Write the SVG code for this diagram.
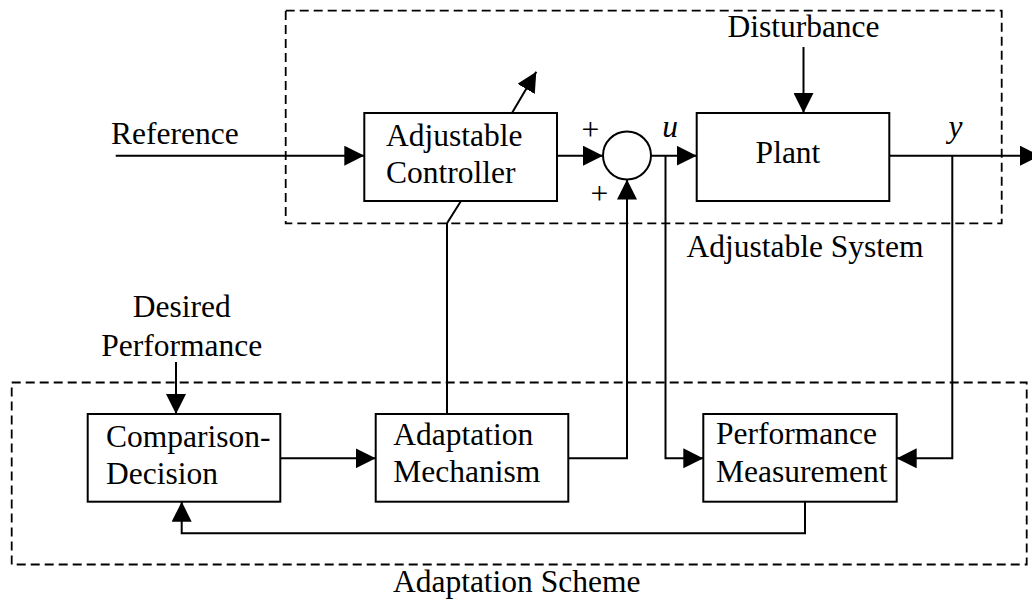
<svg xmlns="http://www.w3.org/2000/svg" width="1032" height="601" viewBox="0 0 1032 601">
  <defs>
    <marker id="arr" viewBox="0 0 20 20" refX="20" refY="10" markerWidth="20" markerHeight="20" markerUnits="userSpaceOnUse" orient="auto">
      <path d="M0,0 L20,10 L0,20 Z" fill="#000"/>
    </marker>
    <style>
      text { font-family: "Liberation Serif", "Times New Roman", serif; font-size: 31.5px; fill: #000; }
      .it { font-style: italic; }
      .box { fill: #fff; stroke: #000; stroke-width: 2; }
      .wire { fill: none; stroke: #000; stroke-width: 2; }
      .dash { fill: none; stroke: #000; stroke-width: 1.8; stroke-dasharray: 9 5; }
      .mid { text-anchor: middle; }
    </style>
  </defs>
  <rect width="1032" height="601" fill="#fff"/>

  <!-- subsystem frames -->
  <g id="frames">
    <rect class="dash" x="285.7" y="10.7" width="716" height="212.6"/>
    <rect class="dash" x="11.7" y="382.5" width="1015" height="182"/>
    <text class="mid" x="805" y="256.7">Adjustable System</text>
    <text class="mid" x="516.7" y="592.3">Adaptation Scheme</text>
  </g>

  <!-- signal paths -->
  <g id="connectors">
    <path class="wire" d="M115.7,155.7 H364.3" marker-end="url(#arr)"/>
    <path class="wire" d="M557,155.7 H603" marker-end="url(#arr)"/>
    <path class="wire" d="M651,155.7 H696.7" marker-end="url(#arr)"/>
    <path class="wire" d="M889.3,155.7 H1040" marker-end="url(#arr)"/>
    <path class="wire" d="M803.5,47 V113" marker-end="url(#arr)"/>
    <path class="wire" d="M512,113 L536.3,71.7" marker-end="url(#arr)"/>
    <path class="wire" d="M461,201 L447,223.3 V414"/>
    <path class="wire" d="M176,362 V414" marker-end="url(#arr)"/>
    <path class="wire" d="M280.3,458.3 H375.7" marker-end="url(#arr)"/>
    <path class="wire" d="M568.3,458.3 H627 V179.5" marker-end="url(#arr)"/>
    <path class="wire" d="M665.5,155.7 V458.3 H703.3" marker-end="url(#arr)"/>
    <path class="wire" d="M952.3,155.7 V458.3 H896.7" marker-end="url(#arr)"/>
    <path class="wire" d="M805,501.7 V533.3 H181.7 V501.7" marker-end="url(#arr)"/>
  </g>

  <!-- signal labels -->
  <g id="labels">
    <text x="111" y="144.3">Reference</text>
    <text class="mid" x="803.5" y="37.3">Disturbance</text>
    <text class="mid" x="181.7" y="317.3">Desired</text>
    <text class="mid" x="181.7" y="356">Performance</text>
    <text class="mid" x="590.3" y="140">+</text>
    <text class="mid" x="599.5" y="204">+</text>
    <text class="it mid" x="670" y="136.7">u</text>
    <text class="it mid" x="955.5" y="136.7">y</text>
  </g>

  <g id="adjustable-controller">
    <rect class="box" x="364.3" y="113" width="192.7" height="88"/>
    <text x="386" y="145.7">Adjustable</text>
    <text x="386" y="183.3">Controller</text>
  </g>

  <g id="summing-junction">
    <circle class="box" cx="627" cy="155.5" r="24"/>
  </g>

  <g id="plant">
    <rect class="box" x="696.7" y="113" width="192.6" height="88"/>
    <text class="mid" x="788" y="162.7">Plant</text>
  </g>

  <g id="comparison-decision">
    <rect class="box" x="87.7" y="414" width="192.6" height="87.7"/>
    <text x="106" y="446.7">Comparison-</text>
    <text x="106" y="484">Decision</text>
  </g>

  <g id="adaptation-mechanism">
    <rect class="box" x="375.7" y="414" width="192.6" height="87.7"/>
    <text x="393.3" y="445">Adaptation</text>
    <text x="393.3" y="482.3">Mechanism</text>
  </g>

  <g id="performance-measurement">
    <rect class="box" x="703.3" y="414" width="193.4" height="87.7"/>
    <text x="716" y="444">Performance</text>
    <text x="716" y="482.3">Measurement</text>
  </g>
</svg>
